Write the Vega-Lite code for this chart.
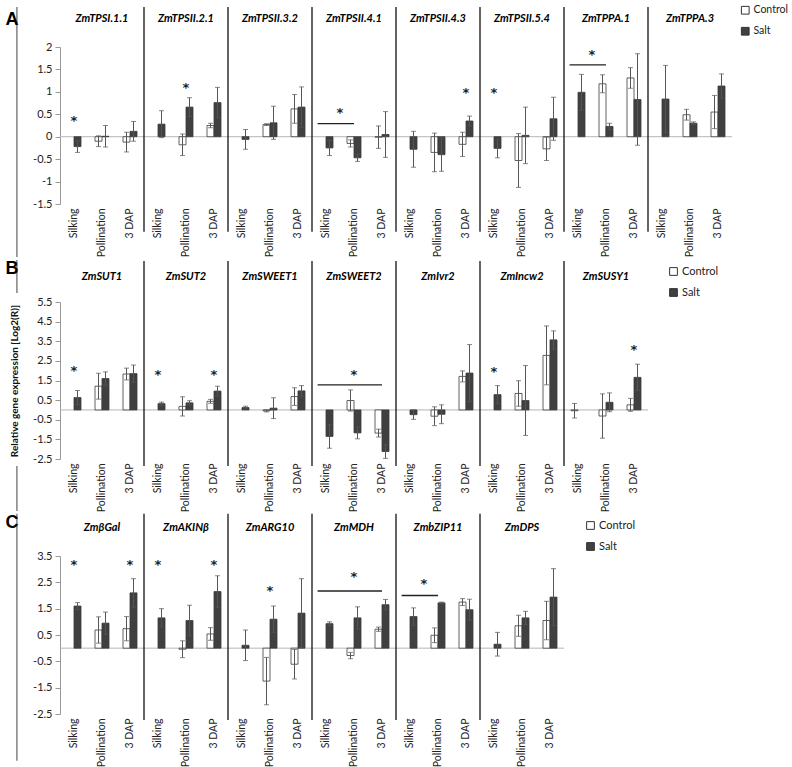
{
 "$schema": "https://vega.github.io/schema/vega-lite/v6.json",
 "padding": {"left": 5, "top": 5, "right": 0, "bottom": 0},
 "background": "white",
 "config": {
  "font": "Lato",
  "view": {"stroke": null},
  "axis": {"grid": false, "domainColor": "#999", "tickColor": "#999", "labelColor": "#222", "labelFontSize": 11},
  "axisY": {"labelOverlap": false, "tickCount": 20},
  "legend": {"labelFontSize": 11, "labelColor": "#222"}
 },
 "datasets": {
  "A": [
   {"k":"let","g":"ZmTPSI.1.1","s":"Silking","y":2.6,"t":"A"},
   {"k":"vl","g":"ZmTPSI.1.1","s":"Silking","y":2.89,"y2":-2.68},
   {"k":"b","g":"ZmTPSI.1.1","s":"Silking","c":"Salt","v":-0.22,"lo":-0.35,"hi":-0.09},
   {"k":"b","g":"ZmTPSI.1.1","s":"Pollination","c":"Control","v":-0.1,"lo":-0.22,"hi":0.02},
   {"k":"b","g":"ZmTPSI.1.1","s":"Pollination","c":"Salt","v":0.01,"lo":-0.23,"hi":0.25},
   {"k":"b","g":"ZmTPSI.1.1","s":"3 DAP","c":"Control","v":-0.12,"lo":-0.34,"hi":0.1},
   {"k":"b","g":"ZmTPSI.1.1","s":"3 DAP","c":"Salt","v":0.12,"lo":-0.1,"hi":0.34},
   {"k":"star","g":"ZmTPSI.1.1","s":"Silking","y":0.45},
   {"k":"b","g":"ZmTPSII.2.1","s":"Silking","c":"Salt","v":0.28,"lo":-0.02,"hi":0.58},
   {"k":"b","g":"ZmTPSII.2.1","s":"Pollination","c":"Control","v":-0.18,"lo":-0.42,"hi":0.06},
   {"k":"b","g":"ZmTPSII.2.1","s":"Pollination","c":"Salt","v":0.66,"lo":0.45,"hi":0.87},
   {"k":"b","g":"ZmTPSII.2.1","s":"3 DAP","c":"Control","v":0.25,"lo":0.2,"hi":0.3},
   {"k":"b","g":"ZmTPSII.2.1","s":"3 DAP","c":"Salt","v":0.76,"lo":0.42,"hi":1.1},
   {"k":"star","g":"ZmTPSII.2.1","s":"Pollination","y":1.17},
   {"k":"sep","g":"ZmTPSII.2.1","s":"Silking"},
   {"k":"b","g":"ZmTPSII.3.2","s":"Silking","c":"Salt","v":-0.06,"lo":-0.28,"hi":0.16},
   {"k":"b","g":"ZmTPSII.3.2","s":"Pollination","c":"Control","v":0.27,"lo":0.25,"hi":0.29},
   {"k":"b","g":"ZmTPSII.3.2","s":"Pollination","c":"Salt","v":0.31,"lo":-0.06,"hi":0.68},
   {"k":"b","g":"ZmTPSII.3.2","s":"3 DAP","c":"Control","v":0.62,"lo":0.3,"hi":0.94},
   {"k":"b","g":"ZmTPSII.3.2","s":"3 DAP","c":"Salt","v":0.66,"lo":0.21,"hi":1.11},
   {"k":"sep","g":"ZmTPSII.3.2","s":"Silking"},
   {"k":"b","g":"ZmTPSII.4.1","s":"Silking","c":"Salt","v":-0.25,"lo":-0.42,"hi":-0.08},
   {"k":"b","g":"ZmTPSII.4.1","s":"Pollination","c":"Control","v":-0.15,"lo":-0.23,"hi":-0.07},
   {"k":"b","g":"ZmTPSII.4.1","s":"Pollination","c":"Salt","v":-0.47,"lo":-0.55,"hi":-0.39},
   {"k":"b","g":"ZmTPSII.4.1","s":"3 DAP","c":"Control","v":-0.01,"lo":-0.26,"hi":0.24},
   {"k":"b","g":"ZmTPSII.4.1","s":"3 DAP","c":"Salt","v":0.05,"lo":-0.46,"hi":0.56},
   {"k":"line","g":"ZmTPSII.4.1","s":"Silking","s2":"Pollination","y":0.29},
   {"k":"star2","g":"ZmTPSII.4.1","s":"Silking","y":0.62},
   {"k":"sep","g":"ZmTPSII.4.1","s":"Silking"},
   {"k":"b","g":"ZmTPSII.4.3","s":"Silking","c":"Salt","v":-0.28,"lo":-0.68,"hi":0.12},
   {"k":"b","g":"ZmTPSII.4.3","s":"Pollination","c":"Control","v":-0.35,"lo":-0.78,"hi":0.08},
   {"k":"b","g":"ZmTPSII.4.3","s":"Pollination","c":"Salt","v":-0.4,"lo":-0.77,"hi":-0.03},
   {"k":"b","g":"ZmTPSII.4.3","s":"3 DAP","c":"Control","v":-0.17,"lo":-0.44,"hi":0.1},
   {"k":"b","g":"ZmTPSII.4.3","s":"3 DAP","c":"Salt","v":0.35,"lo":0.24,"hi":0.46},
   {"k":"star","g":"ZmTPSII.4.3","s":"3 DAP","y":1.07},
   {"k":"sep","g":"ZmTPSII.4.3","s":"Silking"},
   {"k":"b","g":"ZmTPSII.5.4","s":"Silking","c":"Salt","v":-0.26,"lo":-0.47,"hi":-0.05},
   {"k":"b","g":"ZmTPSII.5.4","s":"Pollination","c":"Control","v":-0.53,"lo":-1.13,"hi":0.07},
   {"k":"b","g":"ZmTPSII.5.4","s":"Pollination","c":"Salt","v":0.03,"lo":-0.6,"hi":0.66},
   {"k":"b","g":"ZmTPSII.5.4","s":"3 DAP","c":"Control","v":-0.27,"lo":-0.53,"hi":-0.01},
   {"k":"b","g":"ZmTPSII.5.4","s":"3 DAP","c":"Salt","v":0.4,"lo":-0.08,"hi":0.88},
   {"k":"star","g":"ZmTPSII.5.4","s":"Silking","y":1.07},
   {"k":"sep","g":"ZmTPSII.5.4","s":"Silking"},
   {"k":"b","g":"ZmTPPA.1","s":"Silking","c":"Salt","v":0.99,"lo":0.59,"hi":1.39},
   {"k":"b","g":"ZmTPPA.1","s":"Pollination","c":"Control","v":1.18,"lo":0.98,"hi":1.38},
   {"k":"b","g":"ZmTPPA.1","s":"Pollination","c":"Salt","v":0.23,"lo":0.16,"hi":0.3},
   {"k":"b","g":"ZmTPPA.1","s":"3 DAP","c":"Control","v":1.31,"lo":1.08,"hi":1.54},
   {"k":"b","g":"ZmTPPA.1","s":"3 DAP","c":"Salt","v":0.83,"lo":-0.19,"hi":1.85},
   {"k":"line","g":"ZmTPPA.1","s":"Silking","s2":"Pollination","y":1.6},
   {"k":"star2","g":"ZmTPPA.1","s":"Silking","y":1.92},
   {"k":"sep","g":"ZmTPPA.1","s":"Silking"},
   {"k":"b","g":"ZmTPPA.3","s":"Silking","c":"Salt","v":0.84,"lo":0.09,"hi":1.59},
   {"k":"b","g":"ZmTPPA.3","s":"Pollination","c":"Control","v":0.49,"lo":0.37,"hi":0.61},
   {"k":"b","g":"ZmTPPA.3","s":"Pollination","c":"Salt","v":0.3,"lo":0.27,"hi":0.33},
   {"k":"b","g":"ZmTPPA.3","s":"3 DAP","c":"Control","v":0.55,"lo":0.18,"hi":0.92},
   {"k":"b","g":"ZmTPPA.3","s":"3 DAP","c":"Salt","v":1.13,"lo":0.86,"hi":1.4},
   {"k":"sep","g":"ZmTPPA.3","s":"Silking"}
  ],
  "B": [
   {"k":"let","g":"ZmSUT1","s":"Silking","y":7.18,"t":"B"},
   {"k":"vl","g":"ZmSUT1","s":"Silking","y":7.64,"y2":5.96},
   {"k":"vl","g":"ZmSUT1","s":"Silking","y":-2.86,"y2":-5.15},
   {"k":"b","g":"ZmSUT1","s":"Silking","c":"Salt","v":0.63,"lo":0.27,"hi":0.99},
   {"k":"b","g":"ZmSUT1","s":"Pollination","c":"Control","v":1.21,"lo":0.55,"hi":1.87},
   {"k":"b","g":"ZmSUT1","s":"Pollination","c":"Salt","v":1.6,"lo":1.26,"hi":1.94},
   {"k":"b","g":"ZmSUT1","s":"3 DAP","c":"Control","v":1.83,"lo":1.53,"hi":2.13},
   {"k":"b","g":"ZmSUT1","s":"3 DAP","c":"Salt","v":1.85,"lo":1.41,"hi":2.29},
   {"k":"star","g":"ZmSUT1","s":"Silking","y":2.18},
   {"k":"b","g":"ZmSUT2","s":"Silking","c":"Salt","v":0.32,"lo":0.24,"hi":0.4},
   {"k":"b","g":"ZmSUT2","s":"Pollination","c":"Control","v":0.18,"lo":-0.31,"hi":0.67},
   {"k":"b","g":"ZmSUT2","s":"Pollination","c":"Salt","v":0.36,"lo":0.25,"hi":0.47},
   {"k":"b","g":"ZmSUT2","s":"3 DAP","c":"Control","v":0.44,"lo":0.34,"hi":0.54},
   {"k":"b","g":"ZmSUT2","s":"3 DAP","c":"Salt","v":0.96,"lo":0.71,"hi":1.21},
   {"k":"star","g":"ZmSUT2","s":"Silking","y":2.0},
   {"k":"star","g":"ZmSUT2","s":"3 DAP","y":2.0},
   {"k":"sep","g":"ZmSUT2","s":"Silking"},
   {"k":"b","g":"ZmSWEET1","s":"Silking","c":"Salt","v":0.12,"lo":0.05,"hi":0.19},
   {"k":"b","g":"ZmSWEET1","s":"Pollination","c":"Control","v":-0.05,"lo":-0.1,"hi":0.0},
   {"k":"b","g":"ZmSWEET1","s":"Pollination","c":"Salt","v":0.09,"lo":-0.44,"hi":0.62},
   {"k":"b","g":"ZmSWEET1","s":"3 DAP","c":"Control","v":0.68,"lo":0.23,"hi":1.13},
   {"k":"b","g":"ZmSWEET1","s":"3 DAP","c":"Salt","v":0.97,"lo":0.7,"hi":1.24},
   {"k":"sep","g":"ZmSWEET1","s":"Silking"},
   {"k":"b","g":"ZmSWEET2","s":"Silking","c":"Salt","v":-1.35,"lo":-1.95,"hi":-0.75},
   {"k":"b","g":"ZmSWEET2","s":"Pollination","c":"Control","v":0.48,"lo":-0.06,"hi":1.02},
   {"k":"b","g":"ZmSWEET2","s":"Pollination","c":"Salt","v":-1.17,"lo":-1.47,"hi":-0.87},
   {"k":"b","g":"ZmSWEET2","s":"3 DAP","c":"Control","v":-1.18,"lo":-1.38,"hi":-0.98},
   {"k":"b","g":"ZmSWEET2","s":"3 DAP","c":"Salt","v":-2.12,"lo":-2.47,"hi":-1.77},
   {"k":"line","g":"ZmSWEET2","s":"Silking","s2":"3 DAP","y":1.28},
   {"k":"star","g":"ZmSWEET2","s":"Pollination","y":2.0},
   {"k":"sep","g":"ZmSWEET2","s":"Silking"},
   {"k":"b","g":"ZmIvr2","s":"Silking","c":"Salt","v":-0.24,"lo":-0.48,"hi":0.0},
   {"k":"b","g":"ZmIvr2","s":"Pollination","c":"Control","v":-0.32,"lo":-0.8,"hi":0.16},
   {"k":"b","g":"ZmIvr2","s":"Pollination","c":"Salt","v":-0.22,"lo":-0.7,"hi":0.26},
   {"k":"b","g":"ZmIvr2","s":"3 DAP","c":"Control","v":1.71,"lo":1.43,"hi":1.99},
   {"k":"b","g":"ZmIvr2","s":"3 DAP","c":"Salt","v":1.88,"lo":0.43,"hi":3.33},
   {"k":"sep","g":"ZmIvr2","s":"Silking"},
   {"k":"b","g":"ZmIncw2","s":"Silking","c":"Salt","v":0.78,"lo":0.32,"hi":1.24},
   {"k":"b","g":"ZmIncw2","s":"Pollination","c":"Control","v":0.84,"lo":0.19,"hi":1.49},
   {"k":"b","g":"ZmIncw2","s":"Pollination","c":"Salt","v":0.48,"lo":-1.3,"hi":2.26},
   {"k":"b","g":"ZmIncw2","s":"3 DAP","c":"Control","v":2.78,"lo":1.28,"hi":4.28},
   {"k":"b","g":"ZmIncw2","s":"3 DAP","c":"Salt","v":3.57,"lo":3.11,"hi":4.03},
   {"k":"star","g":"ZmIncw2","s":"Silking","y":2.15},
   {"k":"sep","g":"ZmIncw2","s":"Silking"},
   {"k":"b","g":"ZmSUSY1","s":"Silking","c":"Control","v":-0.04,"lo":-0.41,"hi":0.33},
   {"k":"b","g":"ZmSUSY1","s":"Pollination","c":"Control","v":-0.31,"lo":-1.44,"hi":0.82},
   {"k":"b","g":"ZmSUSY1","s":"Pollination","c":"Salt","v":0.39,"lo":-0.09,"hi":0.87},
   {"k":"b","g":"ZmSUSY1","s":"3 DAP","c":"Control","v":0.26,"lo":-0.07,"hi":0.59},
   {"k":"b","g":"ZmSUSY1","s":"3 DAP","c":"Salt","v":1.66,"lo":0.99,"hi":2.33},
   {"k":"star","g":"ZmSUSY1","s":"3 DAP","y":3.26},
   {"k":"sep","g":"ZmSUSY1","s":"Silking"}
  ],
  "C": [
   {"k":"let","g":"ZmβGal","s":"Silking","y":4.75,"t":"C"},
   {"k":"vl","g":"ZmβGal","s":"Silking","y":5.1,"y2":-4.28},
   {"k":"b","g":"ZmβGal","s":"Silking","c":"Salt","v":1.6,"lo":1.47,"hi":1.73},
   {"k":"b","g":"ZmβGal","s":"Pollination","c":"Control","v":0.69,"lo":0.19,"hi":1.19},
   {"k":"b","g":"ZmβGal","s":"Pollination","c":"Salt","v":0.95,"lo":0.53,"hi":1.37},
   {"k":"b","g":"ZmβGal","s":"3 DAP","c":"Control","v":0.74,"lo":0.28,"hi":1.2},
   {"k":"b","g":"ZmβGal","s":"3 DAP","c":"Salt","v":2.1,"lo":1.56,"hi":2.64},
   {"k":"star","g":"ZmβGal","s":"Silking","y":3.3},
   {"k":"star","g":"ZmβGal","s":"3 DAP","y":3.3},
   {"k":"b","g":"ZmAKINβ","s":"Silking","c":"Salt","v":1.15,"lo":0.8,"hi":1.5},
   {"k":"b","g":"ZmAKINβ","s":"Pollination","c":"Control","v":-0.04,"lo":-0.36,"hi":0.28},
   {"k":"b","g":"ZmAKINβ","s":"Pollination","c":"Salt","v":1.05,"lo":0.47,"hi":1.63},
   {"k":"b","g":"ZmAKINβ","s":"3 DAP","c":"Control","v":0.54,"lo":0.3,"hi":0.78},
   {"k":"b","g":"ZmAKINβ","s":"3 DAP","c":"Salt","v":2.15,"lo":1.55,"hi":2.75},
   {"k":"star","g":"ZmAKINβ","s":"Silking","y":3.3},
   {"k":"star","g":"ZmAKINβ","s":"3 DAP","y":3.3},
   {"k":"sep","g":"ZmAKINβ","s":"Silking"},
   {"k":"b","g":"ZmARG10","s":"Silking","c":"Salt","v":0.11,"lo":-0.47,"hi":0.69},
   {"k":"b","g":"ZmARG10","s":"Pollination","c":"Control","v":-1.25,"lo":-2.15,"hi":-0.35},
   {"k":"b","g":"ZmARG10","s":"Pollination","c":"Salt","v":1.1,"lo":0.6,"hi":1.6},
   {"k":"b","g":"ZmARG10","s":"3 DAP","c":"Control","v":-0.61,"lo":-1.17,"hi":-0.05},
   {"k":"b","g":"ZmARG10","s":"3 DAP","c":"Salt","v":1.33,"lo":0.02,"hi":2.64},
   {"k":"star","g":"ZmARG10","s":"Pollination","y":2.32},
   {"k":"sep","g":"ZmARG10","s":"Silking"},
   {"k":"b","g":"ZmMDH","s":"Silking","c":"Salt","v":0.93,"lo":0.86,"hi":1.0},
   {"k":"b","g":"ZmMDH","s":"Pollination","c":"Control","v":-0.28,"lo":-0.4,"hi":-0.16},
   {"k":"b","g":"ZmMDH","s":"Pollination","c":"Salt","v":1.15,"lo":0.73,"hi":1.57},
   {"k":"b","g":"ZmMDH","s":"3 DAP","c":"Control","v":0.72,"lo":0.64,"hi":0.8},
   {"k":"b","g":"ZmMDH","s":"3 DAP","c":"Salt","v":1.65,"lo":1.45,"hi":1.85},
   {"k":"line","g":"ZmMDH","s":"Silking","s2":"3 DAP","y":2.17},
   {"k":"star","g":"ZmMDH","s":"Pollination","y":2.84},
   {"k":"sep","g":"ZmMDH","s":"Silking"},
   {"k":"b","g":"ZmbZIP11","s":"Silking","c":"Salt","v":1.2,"lo":0.87,"hi":1.53},
   {"k":"b","g":"ZmbZIP11","s":"Pollination","c":"Control","v":0.49,"lo":0.21,"hi":0.77},
   {"k":"b","g":"ZmbZIP11","s":"Pollination","c":"Salt","v":1.72,"lo":1.69,"hi":1.75},
   {"k":"b","g":"ZmbZIP11","s":"3 DAP","c":"Control","v":1.75,"lo":1.62,"hi":1.88},
   {"k":"b","g":"ZmbZIP11","s":"3 DAP","c":"Salt","v":1.46,"lo":1.06,"hi":1.86},
   {"k":"line","g":"ZmbZIP11","s":"Silking","s2":"Pollination","y":2.0},
   {"k":"star2","g":"ZmbZIP11","s":"Silking","y":2.6},
   {"k":"sep","g":"ZmbZIP11","s":"Silking"},
   {"k":"b","g":"ZmDPS","s":"Silking","c":"Salt","v":0.15,"lo":-0.3,"hi":0.6},
   {"k":"b","g":"ZmDPS","s":"Pollination","c":"Control","v":0.85,"lo":0.45,"hi":1.25},
   {"k":"b","g":"ZmDPS","s":"Pollination","c":"Salt","v":1.15,"lo":0.9,"hi":1.4},
   {"k":"b","g":"ZmDPS","s":"3 DAP","c":"Control","v":1.05,"lo":0.32,"hi":1.78},
   {"k":"b","g":"ZmDPS","s":"3 DAP","c":"Salt","v":1.94,"lo":0.86,"hi":3.02},
   {"k":"sep","g":"ZmDPS","s":"Silking"}
  ]
 },
 "spacing": 1,
 "resolve": {"scale": {"fill": "independent", "y": "independent", "x": "independent", "xOffset": "independent"}, "legend": {"fill": "independent"}},
 "vconcat": [
  {
   "data": {"name": "A"},
   "facet": {"column": {"field": "g", "type": "nominal", "sort": ["ZmTPSI.1.1","ZmTPSII.2.1","ZmTPSII.3.2","ZmTPSII.4.1","ZmTPSII.4.3","ZmTPSII.5.4","ZmTPPA.1","ZmTPPA.3"], "header": {"title": null, "labelFontSize": 11, "labelFontWeight": "bold", "labelFontStyle": "italic", "labelPadding": 23}}},
   "spacing": 0,
   "bounds": "flush",
   "spec": {
    "width": 84, "height": 157,
    "layer": [
     {"transform": [{"filter": "datum.k == 'b' && datum.s == '3 DAP' && datum.c == 'Salt'"}],
      "mark": {"type": "rule", "color": "#b5b5b5", "strokeWidth": 1},
      "encoding": {"y": {"datum": 0, "type": "quantitative", "title": null, "scale": {"domain": [-1.5, 2], "nice": false, "zero": false}}}},
     {"transform": [{"filter": "datum.k == 'b'"}],
      "mark": {"type": "bar", "stroke": "#3a3a3a", "strokeWidth": 0.8},
      "encoding": {
       "x": {"field": "s", "type": "nominal", "title": null, "scale": {"domain": ["Silking","Pollination","3 DAP"], "paddingInner": 0, "paddingOuter": 0}, "axis": {"labelAngle": 270, "ticks": false, "domain": false, "labelPadding": 4, "labelFontSize": 10.5}},
       "xOffset": {"field": "c", "type": "nominal", "scale": {"domain": ["Control","Salt"], "paddingOuter": 1.2, "paddingInner": 0}},
       "y": {"field": "v", "type": "quantitative", "title": null, "axis": {"values": [2,1.5,1,0.5,0,-0.5,-1,-1.5], "tickCount": 20, "labelExpr": "datum.value + ''", "labelOverlap": false, "tickSize": 5, "labelPadding": 3}},
       "fill": {"field": "c", "type": "nominal", "scale": {"domain": ["Control","Salt"], "range": ["#ffffff","#404040"]}, "legend": {"title": null, "orient": "none", "legendX": 680, "legendY": -42, "symbolType": "square", "symbolSize": 60, "symbolStrokeColor": "#333", "symbolStrokeWidth": 1, "rowPadding": 8, "labelFontSize": 10.5, "labelOffset": 3}}
      }},
     {"transform": [{"filter": "datum.k == 'b'"}],
      "mark": {"type": "rule", "color": "#555", "strokeWidth": 1},
      "encoding": {"x": {"field": "s", "type": "nominal", "title": null}, "xOffset": {"field": "c", "type": "nominal"}, "y": {"field": "lo", "type": "quantitative", "title": null}, "y2": {"field": "hi"}}},
     {"transform": [{"filter": "datum.k == 'b'"}],
      "mark": {"type": "tick", "color": "#555", "size": 5, "thickness": 1},
      "encoding": {"x": {"field": "s", "type": "nominal", "title": null}, "xOffset": {"field": "c", "type": "nominal"}, "y": {"field": "lo", "type": "quantitative", "title": null}}},
     {"transform": [{"filter": "datum.k == 'b'"}],
      "mark": {"type": "tick", "color": "#555", "size": 5, "thickness": 1},
      "encoding": {"x": {"field": "s", "type": "nominal", "title": null}, "xOffset": {"field": "c", "type": "nominal"}, "y": {"field": "hi", "type": "quantitative", "title": null}}},
     {"transform": [{"filter": "datum.k == 'sep'"}],
      "mark": {"type": "rule", "color": "#111", "strokeWidth": 1.3},
      "encoding": {"x": {"field": "s", "type": "nominal", "title": null, "bandPosition": 0}, "y": {"datum": 2.89, "type": "quantitative", "title": null}, "y2": {"datum": -2.12}}},
     {"transform": [{"filter": "datum.k == 'vl'"}],
      "mark": {"type": "rule", "color": "#8a8a8a", "strokeWidth": 1.6},
      "encoding": {"x": {"field": "s", "type": "nominal", "title": null, "bandPosition": -1.54}, "y": {"field": "y", "type": "quantitative", "title": null}, "y2": {"field": "y2"}}},
     {"transform": [{"filter": "datum.k == 'line'"}],
      "mark": {"type": "rule", "color": "#222", "strokeWidth": 1.3},
      "encoding": {"x": {"field": "s", "type": "nominal", "title": null, "bandPosition": 0.2}, "x2": {"field": "s2"}, "y": {"field": "y", "type": "quantitative", "title": null}}},
     {"transform": [{"filter": "datum.k == 'star'"}],
      "mark": {"type": "text", "text": "*", "font": "DejaVu Sans", "fontSize": 13, "fontWeight": "bold", "dy": 4, "fill": "#222"},
      "encoding": {"x": {"field": "s", "type": "nominal", "title": null}, "y": {"field": "y", "type": "quantitative", "title": null}}},
     {"transform": [{"filter": "datum.k == 'star2'"}],
      "mark": {"type": "text", "text": "*", "font": "DejaVu Sans", "fontSize": 13, "fontWeight": "bold", "dy": 4, "fill": "#222"},
      "encoding": {"x": {"field": "s", "type": "nominal", "title": null, "bandPosition": 1}, "y": {"field": "y", "type": "quantitative", "title": null}}},
     {"transform": [{"filter": "datum.k == 'let'"}],
      "mark": {"type": "text", "font": "Liberation Sans", "fontSize": 18, "fontWeight": "bold", "align": "left", "baseline": "middle", "fill": "#000"},
      "encoding": {"text": {"field": "t"}, "x": {"field": "s", "type": "nominal", "title": null, "bandPosition": -1.95}, "y": {"field": "y", "type": "quantitative", "title": null}}}
    ]
   }
  },
  {
   "data": {"name": "B"},
   "facet": {"column": {"field": "g", "type": "nominal", "sort": ["ZmSUT1","ZmSUT2","ZmSWEET1","ZmSWEET2","ZmIvr2","ZmIncw2","ZmSUSY1"], "header": {"title": null, "labelFontSize": 11, "labelFontWeight": "bold", "labelFontStyle": "italic", "labelPadding": 20}}},
   "spacing": 0,
   "bounds": "flush",
   "spec": {
    "width": 84, "height": 157,
    "layer": [
     {"transform": [{"filter": "datum.k == 'b' && datum.s == '3 DAP' && datum.c == 'Salt'"}],
      "mark": {"type": "rule", "color": "#b5b5b5", "strokeWidth": 1},
      "encoding": {"y": {"datum": 0, "type": "quantitative", "title": "Relative gene expression [Log2(R)]", "scale": {"domain": [-2.5, 5.5], "nice": false, "zero": false}}}},
     {"transform": [{"filter": "datum.k == 'b'"}],
      "mark": {"type": "bar", "stroke": "#3a3a3a", "strokeWidth": 0.8},
      "encoding": {
       "x": {"field": "s", "type": "nominal", "title": null, "scale": {"domain": ["Silking","Pollination","3 DAP"], "paddingInner": 0, "paddingOuter": 0}, "axis": {"labelAngle": 270, "ticks": false, "domain": false, "labelPadding": 4, "labelFontSize": 10.5}},
       "xOffset": {"field": "c", "type": "nominal", "scale": {"domain": ["Control","Salt"], "paddingOuter": 1.2, "paddingInner": 0}},
       "y": {"field": "v", "type": "quantitative", "title": "Relative gene expression [Log2(R)]", "axis": {"values": [5.5,4.5,3.5,2.5,1.5,0.5,-0.5,-1.5,-2.5], "tickCount": 20, "labelExpr": "datum.value + ''", "labelOverlap": false, "tickSize": 5, "labelPadding": 3, "titleFontSize": 10, "titleFontWeight": "bold", "titleColor": "#111", "titlePadding": 13}},
       "fill": {"field": "c", "type": "nominal", "scale": {"domain": ["Control","Salt"], "range": ["#ffffff","#404040"]}, "legend": {"title": null, "orient": "none", "legendX": 608, "legendY": -36, "symbolType": "square", "symbolSize": 60, "symbolStrokeColor": "#333", "symbolStrokeWidth": 1, "rowPadding": 8, "labelFontSize": 11, "labelOffset": 3}}
      }},
     {"transform": [{"filter": "datum.k == 'b'"}],
      "mark": {"type": "rule", "color": "#555", "strokeWidth": 1},
      "encoding": {"x": {"field": "s", "type": "nominal", "title": null}, "xOffset": {"field": "c", "type": "nominal"}, "y": {"field": "lo", "type": "quantitative", "title": "Relative gene expression [Log2(R)]"}, "y2": {"field": "hi"}}},
     {"transform": [{"filter": "datum.k == 'b'"}],
      "mark": {"type": "tick", "color": "#555", "size": 5, "thickness": 1},
      "encoding": {"x": {"field": "s", "type": "nominal", "title": null}, "xOffset": {"field": "c", "type": "nominal"}, "y": {"field": "lo", "type": "quantitative", "title": "Relative gene expression [Log2(R)]"}}},
     {"transform": [{"filter": "datum.k == 'b'"}],
      "mark": {"type": "tick", "color": "#555", "size": 5, "thickness": 1},
      "encoding": {"x": {"field": "s", "type": "nominal", "title": null}, "xOffset": {"field": "c", "type": "nominal"}, "y": {"field": "hi", "type": "quantitative", "title": "Relative gene expression [Log2(R)]"}}},
     {"transform": [{"filter": "datum.k == 'sep'"}],
      "mark": {"type": "rule", "color": "#111", "strokeWidth": 1.3},
      "encoding": {"x": {"field": "s", "type": "nominal", "title": null, "bandPosition": 0}, "y": {"datum": 7.59, "type": "quantitative", "title": "Relative gene expression [Log2(R)]"}, "y2": {"datum": -2.86}}},
     {"transform": [{"filter": "datum.k == 'vl'"}],
      "mark": {"type": "rule", "color": "#8a8a8a", "strokeWidth": 1.6},
      "encoding": {"x": {"field": "s", "type": "nominal", "title": null, "bandPosition": -1.54}, "y": {"field": "y", "type": "quantitative", "title": "Relative gene expression [Log2(R)]"}, "y2": {"field": "y2"}}},
     {"transform": [{"filter": "datum.k == 'line'"}],
      "mark": {"type": "rule", "color": "#222", "strokeWidth": 1.3},
      "encoding": {"x": {"field": "s", "type": "nominal", "title": null, "bandPosition": 0.2}, "x2": {"field": "s2"}, "y": {"field": "y", "type": "quantitative", "title": "Relative gene expression [Log2(R)]"}}},
     {"transform": [{"filter": "datum.k == 'star'"}],
      "mark": {"type": "text", "text": "*", "font": "DejaVu Sans", "fontSize": 13, "fontWeight": "bold", "dy": 4, "fill": "#222"},
      "encoding": {"x": {"field": "s", "type": "nominal", "title": null}, "y": {"field": "y", "type": "quantitative", "title": "Relative gene expression [Log2(R)]"}}},
     {"transform": [{"filter": "datum.k == 'let'"}],
      "mark": {"type": "text", "font": "Liberation Sans", "fontSize": 18, "fontWeight": "bold", "align": "left", "baseline": "middle", "fill": "#000"},
      "encoding": {"text": {"field": "t"}, "x": {"field": "s", "type": "nominal", "title": null, "bandPosition": -1.95}, "y": {"field": "y", "type": "quantitative", "title": "Relative gene expression [Log2(R)]"}}}
    ]
   }
  },
  {
   "data": {"name": "C"},
   "facet": {"column": {"field": "g", "type": "nominal", "sort": ["ZmβGal","ZmAKINβ","ZmARG10","ZmMDH","ZmbZIP11","ZmDPS"], "header": {"title": null, "labelFontSize": 11, "labelFontWeight": "bold", "labelFontStyle": "italic", "labelPadding": 23}}},
   "spacing": 0,
   "bounds": "flush",
   "spec": {
    "width": 84, "height": 158,
    "layer": [
     {"transform": [{"filter": "datum.k == 'b' && datum.s == '3 DAP' && datum.c == 'Salt'"}],
      "mark": {"type": "rule", "color": "#b5b5b5", "strokeWidth": 1},
      "encoding": {"y": {"datum": 0, "type": "quantitative", "title": null, "scale": {"domain": [-2.5, 3.5], "nice": false, "zero": false}}}},
     {"transform": [{"filter": "datum.k == 'b'"}],
      "mark": {"type": "bar", "stroke": "#3a3a3a", "strokeWidth": 0.8},
      "encoding": {
       "x": {"field": "s", "type": "nominal", "title": null, "scale": {"domain": ["Silking","Pollination","3 DAP"], "paddingInner": 0, "paddingOuter": 0}, "axis": {"labelAngle": 270, "ticks": false, "domain": false, "labelPadding": 4, "labelFontSize": 10.5}},
       "xOffset": {"field": "c", "type": "nominal", "scale": {"domain": ["Control","Salt"], "paddingOuter": 1.2, "paddingInner": 0}},
       "y": {"field": "v", "type": "quantitative", "title": null, "axis": {"values": [3.5,2.5,1.5,0.5,-0.5,-1.5,-2.5], "tickCount": 20, "labelExpr": "datum.value + ''", "labelOverlap": false, "tickSize": 5, "labelPadding": 3}},
       "fill": {"field": "c", "type": "nominal", "scale": {"domain": ["Control","Salt"], "range": ["#ffffff","#404040"]}, "legend": {"title": null, "orient": "none", "legendX": 525, "legendY": -36, "symbolType": "square", "symbolSize": 60, "symbolStrokeColor": "#333", "symbolStrokeWidth": 1, "rowPadding": 8, "labelFontSize": 11, "labelOffset": 3}}
      }},
     {"transform": [{"filter": "datum.k == 'b'"}],
      "mark": {"type": "rule", "color": "#555", "strokeWidth": 1},
      "encoding": {"x": {"field": "s", "type": "nominal", "title": null}, "xOffset": {"field": "c", "type": "nominal"}, "y": {"field": "lo", "type": "quantitative", "title": null}, "y2": {"field": "hi"}}},
     {"transform": [{"filter": "datum.k == 'b'"}],
      "mark": {"type": "tick", "color": "#555", "size": 5, "thickness": 1},
      "encoding": {"x": {"field": "s", "type": "nominal", "title": null}, "xOffset": {"field": "c", "type": "nominal"}, "y": {"field": "lo", "type": "quantitative", "title": null}}},
     {"transform": [{"filter": "datum.k == 'b'"}],
      "mark": {"type": "tick", "color": "#555", "size": 5, "thickness": 1},
      "encoding": {"x": {"field": "s", "type": "nominal", "title": null}, "xOffset": {"field": "c", "type": "nominal"}, "y": {"field": "hi", "type": "quantitative", "title": null}}},
     {"transform": [{"filter": "datum.k == 'sep'"}],
      "mark": {"type": "rule", "color": "#111", "strokeWidth": 1.3},
      "encoding": {"x": {"field": "s", "type": "nominal", "title": null, "bandPosition": 0}, "y": {"datum": 5.1, "type": "quantitative", "title": null}, "y2": {"datum": -2.73}}},
     {"transform": [{"filter": "datum.k == 'vl'"}],
      "mark": {"type": "rule", "color": "#8a8a8a", "strokeWidth": 1.6},
      "encoding": {"x": {"field": "s", "type": "nominal", "title": null, "bandPosition": -1.54}, "y": {"field": "y", "type": "quantitative", "title": null}, "y2": {"field": "y2"}}},
     {"transform": [{"filter": "datum.k == 'line'"}],
      "mark": {"type": "rule", "color": "#222", "strokeWidth": 1.3},
      "encoding": {"x": {"field": "s", "type": "nominal", "title": null, "bandPosition": 0.2}, "x2": {"field": "s2"}, "y": {"field": "y", "type": "quantitative", "title": null}}},
     {"transform": [{"filter": "datum.k == 'star'"}],
      "mark": {"type": "text", "text": "*", "font": "DejaVu Sans", "fontSize": 13, "fontWeight": "bold", "dy": 4, "fill": "#222"},
      "encoding": {"x": {"field": "s", "type": "nominal", "title": null}, "y": {"field": "y", "type": "quantitative", "title": null}}},
     {"transform": [{"filter": "datum.k == 'star2'"}],
      "mark": {"type": "text", "text": "*", "font": "DejaVu Sans", "fontSize": 13, "fontWeight": "bold", "dy": 4, "fill": "#222"},
      "encoding": {"x": {"field": "s", "type": "nominal", "title": null, "bandPosition": 1}, "y": {"field": "y", "type": "quantitative", "title": null}}},
     {"transform": [{"filter": "datum.k == 'let'"}],
      "mark": {"type": "text", "font": "Liberation Sans", "fontSize": 18, "fontWeight": "bold", "align": "left", "baseline": "middle", "fill": "#000"},
      "encoding": {"text": {"field": "t"}, "x": {"field": "s", "type": "nominal", "title": null, "bandPosition": -1.95}, "y": {"field": "y", "type": "quantitative", "title": null}}}
    ]
   }
  }
 ]
}
